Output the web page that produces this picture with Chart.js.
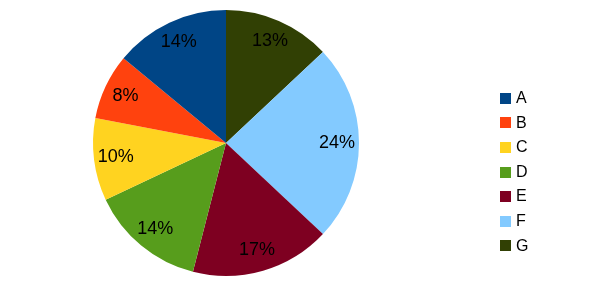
<!DOCTYPE html>
<html>
<head>
<meta charset="utf-8">
<script src="https://cdn.jsdelivr.net/npm/chart.js@4.4.1/dist/chart.umd.min.js"></script>
<style>
  html, body { margin: 0; padding: 0; background: #fff; }
  #wrap { position: relative; width: 600px; height: 289px; }
  #legend { position: absolute; left: 500px; top: 86px; font-family: "Liberation Sans", Arial, sans-serif; font-size: 16px; color: #000; }
  .item { height: 24.6px; line-height: 24.6px; display: flex; align-items: center; }
  .sw { width: 11px; height: 11px; margin-right: 5px; }
</style>
</head>
<body>
<div id="wrap">
  <canvas id="c" width="600" height="289"></canvas>
  <div id="legend"></div>
</div>
<script>
const categories = ["A", "B", "C", "D", "E", "F", "G"];
const values = [14, 8, 10, 14, 17, 24, 13];
const colors = ["#004586", "#ff420e", "#ffd320", "#579d1c", "#7e0021", "#83caff", "#314004"];

// Reference draws categories counter-clockwise from 12 o'clock; reverse for Chart.js clockwise drawing
const revLabels = categories.slice().reverse();
const revValues = values.slice().reverse();
const revColors = colors.slice().reverse();
const total = values.reduce((a, b) => a + b, 0);

const pctLabels = {
  id: 'pctLabels',
  afterDatasetsDraw(chart) {
    const ctx = chart.ctx;
    const meta = chart.getDatasetMeta(0);
    ctx.save();
    ctx.font = '18px "Liberation Sans", Arial, sans-serif';
    ctx.fillStyle = '#000';
    ctx.textAlign = 'center';
    ctx.textBaseline = 'middle';
    meta.data.forEach((arc, i) => {
      const p = arc.getProps(['x', 'y', 'startAngle', 'endAngle', 'outerRadius'], true);
      const mid = (p.startAngle + p.endAngle) / 2;
      const r = p.outerRadius * 0.835;
      const v = chart.data.datasets[0].data[i];
      ctx.fillText(Math.round(v / total * 100) + '%', p.x + Math.cos(mid) * r, p.y + Math.sin(mid) * r);
    });
    ctx.restore();
  }
};

new Chart(document.getElementById('c'), {
  type: 'pie',
  data: {
    labels: revLabels,
    datasets: [{
      data: revValues,
      backgroundColor: revColors,
      borderWidth: 0
    }]
  },
  options: {
    responsive: false,
    animation: false,
    layout: { padding: { left: 93, right: 241, top: 10, bottom: 13 } },
    plugins: {
      legend: { display: false },
      tooltip: { enabled: false }
    }
  },
  plugins: [pctLabels]
});

const leg = document.getElementById('legend');
categories.forEach((c, i) => {
  const d = document.createElement('div');
  d.className = 'item';
  const s = document.createElement('span');
  s.className = 'sw';
  s.style.background = colors[i];
  const t = document.createElement('span');
  t.textContent = c;
  d.appendChild(s);
  d.appendChild(t);
  leg.appendChild(d);
});
</script>
</body>
</html>
